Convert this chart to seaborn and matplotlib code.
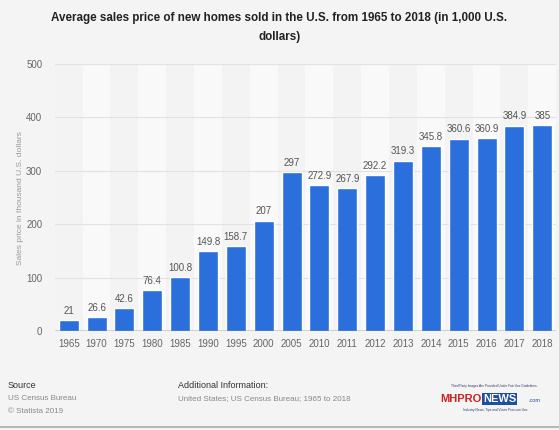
import matplotlib
matplotlib.use("Agg")
import matplotlib.pyplot as plt
import seaborn as sns
import pandas as pd

years = ["1965", "1970", "1975", "1980", "1985", "1990", "1995", "2000", "2005",
         "2010", "2011", "2012", "2013", "2014", "2015", "2016", "2017", "2018"]
prices = [21, 26.6, 42.6, 76.4, 100.8, 149.8, 158.7, 207, 297,
          272.9, 267.9, 292.2, 319.3, 345.8, 360.6, 360.9, 384.9, 385]
labels = ["21", "26.6", "42.6", "76.4", "100.8", "149.8", "158.7", "207", "297",
          "272.9", "267.9", "292.2", "319.3", "345.8", "360.6", "360.9", "384.9", "385"]
yticks = [0, 100, 200, 300, 400, 500]

df = pd.DataFrame({"year": years, "price": prices})

sns.set_theme(style="white")
plt.rcParams["font.family"] = ["Liberation Sans", "DejaVu Sans"]

bg = "#f4f4f4"
fig = plt.figure(figsize=(5.59, 4.30), dpi=100, facecolor=bg)
ax = fig.add_axes([0.098, 0.230, 0.897, 0.621])
ax.set_facecolor("#f3f3f3")

# alternating column stripes
for i in range(len(years)):
    if i % 2 == 1:
        ax.axvspan(i - 0.5, i + 0.5, color="#f9f9f9", zorder=0, lw=0)

for t in yticks[1:]:
    ax.axhline(t, color="#e2e2e2", lw=0.8, zorder=1)

sns.barplot(data=df, x="year", y="price", color="#2a6fdb", saturation=1,
            width=0.72, ax=ax, zorder=3)

for i, (v, lab) in enumerate(zip(prices, labels)):
    ax.text(i, v + 8, lab, ha="center", va="bottom", fontsize=7, color="#555555", zorder=4)

ax.axhline(0, color="#333333", lw=1.0, zorder=5)
ax.set_xlim(-0.5, len(years) - 0.5)
ax.set_ylim(0, 500)
ax.set_yticks(yticks)
ax.set_yticklabels([str(t) for t in yticks])
ax.tick_params(axis="both", length=0, labelsize=7, labelcolor="#666666")
ax.tick_params(axis="y", pad=9)
ax.tick_params(axis="x", pad=6)
for s in ax.spines.values():
    s.set_visible(False)
ax.set_xlabel("")
ax.set_ylabel("Sales price in thousand U.S. dollars", fontsize=6, color="#999999", labelpad=9)
ax.yaxis.set_label_coords(-0.062, 0.5)

fig.text(0.5, 0.958, "Average sales price of new homes sold in the U.S. from 1965 to 2018 (in 1,000 U.S.",
         ha="center", va="center", fontsize=8.4, fontweight="bold", color="#222222")
fig.text(0.5, 0.914, "dollars)", ha="center", va="center", fontsize=8.4,
         fontweight="bold", color="#222222")

fig.text(0.014, 0.104, "Source", fontsize=6.5, color="#333333", va="center")
fig.text(0.014, 0.073, "US Census Bureau", fontsize=5.8, color="#888888", va="center")
fig.text(0.014, 0.044, "© Statista 2019", fontsize=5.8, color="#888888", va="center")
fig.text(0.318, 0.104, "Additional Information:", fontsize=6.5, color="#333333", va="center")
fig.text(0.318, 0.073, "United States; US Census Bureau; 1965 to 2018", fontsize=5.8,
         color="#888888", va="center")

# logo approximation as text
fig.text(0.885, 0.103, "Third Party Images Are Provided Under Fair Use Guidelines.",
         fontsize=2.3, color="#333366", ha="center", va="center")
fig.text(0.862, 0.072, "MHPRO", fontsize=8, fontweight="bold", color="#cc2222",
         ha="right", va="center")
fig.text(0.864, 0.072, "NEWS", fontsize=8, fontweight="bold", color="white",
         ha="left", va="center",
         bbox=dict(boxstyle="square,pad=0.1", fc="#1f4fa0", ec="none"))
fig.text(0.945, 0.068, ".com", fontsize=4, color="#1f4fa0", ha="left", va="center")
fig.text(0.885, 0.046, "Industry News, Tips and Views Pros can Use", fontsize=2.3,
         color="#333366", ha="center", va="center")

fig.add_artist(plt.Line2D([0, 1], [0.006, 0.006], color="#aaaaaa", lw=1.2,
                          transform=fig.transFigure))

fig.savefig("out.png", dpi=100, facecolor=bg)
